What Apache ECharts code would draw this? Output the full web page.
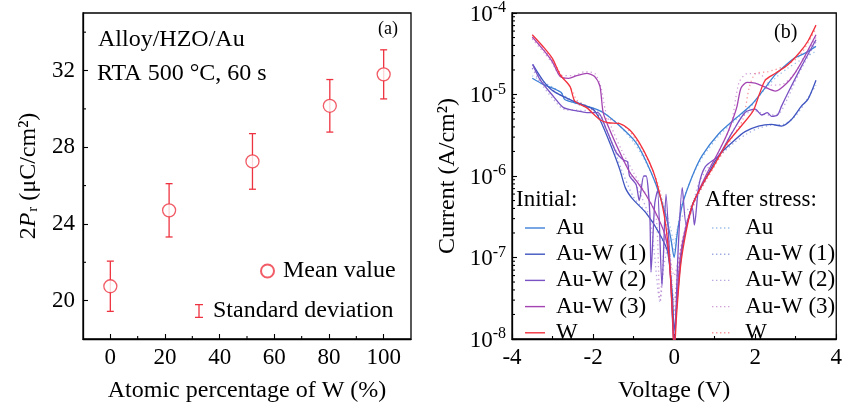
<!DOCTYPE html>
<html><head><meta charset="utf-8">
<script src="https://cdn.jsdelivr.net/npm/echarts@6/dist/echarts.min.js"></script>
<style>html,body{margin:0;padding:0;background:#fff}#c{width:845px;height:408px}</style>
</head><body><div id="c"></div>
<script>
// ---------- Panel (a) data ----------
const pctW = [0, 21.5, 52, 80.3, 100];
const pr2Mean = [20.75, 24.71, 27.26, 30.16, 31.8];
const pr2Sd = [1.31, 1.39, 1.45, 1.37, 1.28];
const aXTicks = [0, 20, 40, 60, 80, 100];
const aXMinor = [10, 30, 50, 70, 90];
const aYTicks = [20, 24, 28, 32];
const aYMinor = [22, 26, 30, 34];

// ---------- Panel (b) data: [voltage (V), current (A/cm2)] ----------
const names = ['Au', 'Au-W (1)', 'Au-W (2)', 'Au-W (3)', 'W'];
const colors = ['#3d80d6', '#3f55c0', '#7a52c4', '#a444b2', '#f2303c'];
const bYTicks = [1e-8, 1e-7, 1e-6, 1e-5, 1e-4];
const bMinorMult = [2, 3, 4, 5, 6, 7, 8, 9];
const bDecades = [1e-8, 1e-7, 1e-6, 1e-5];

const auInit = [[-3.5,1.58e-5],[-3.22,1.32e-5],[-2.95,1.17e-5],[-2.78,1.05e-5],[-2.7,8.7e-6],[-2.32,7.6e-6],[-2.0,6.8e-6],[-1.75,6.0e-6],[-1.34,4.1e-6],[-0.94,2.57e-6],[-0.69,1.51e-6],[-0.45,7.9e-7],[-0.2,3.2e-7],[-0.08,1.7e-7],[0,1.0e-7],[0.08,2.0e-7],[0.2,4.4e-7],[0.45,1.0e-6],[0.69,1.78e-6],[1.1,3.3e-6],[1.5,5.0e-6],[1.92,7.6e-6],[2.24,1.2e-5],[2.49,1.74e-5],[2.73,2.24e-5],[2.97,2.8e-5],[3.22,3.2e-5],[3.5,3.9e-5]];
const aw1Init = [[-3.49,2.34e-5],[-3.22,1.45e-5],[-2.98,1.1e-5],[-2.49,8.3e-6],[-2.0,6.6e-6],[-1.83,4.9e-6],[-1.59,2.57e-6],[-1.34,1.2e-6],[-1.2,7.1e-7],[-1.02,5.2e-7],[-0.69,3.5e-7],[-0.37,2.0e-7],[-0.16,1.17e-7],[-0.04,3.2e-8],[0,1.26e-8],[0.08,3.2e-8],[0.2,1.3e-7],[0.45,4.4e-7],[0.77,9.1e-7],[1.1,1.78e-6],[1.51,2.8e-6],[1.75,3.5e-6],[2.08,4.1e-6],[2.4,4.3e-6],[2.65,4.1e-6],[2.89,4.9e-6],[3.14,7.2e-6],[3.3,8.7e-6],[3.5,1.5e-5]];
const aw2Init = [[-3.49,2.34e-5],[-3.3,1.5e-5],[-2.98,9.5e-6],[-2.73,6.9e-6],[-2.4,6.3e-6],[-2.16,6.0e-6],[-1.88,6.0e-6],[-1.67,3.7e-6],[-1.43,1.95e-6],[-1.26,1.58e-6],[-1.15,1.5e-6],[-1.1,1.0e-6],[-0.94,7.9e-7],[-0.86,5.0e-7],[-0.75,1.0e-6],[-0.69,1.0e-6],[-0.6,3.5e-7],[-0.57,6.6e-8],[-0.48,4.5e-7],[-0.41,6.6e-7],[-0.3,4.5e-8],[-0.2,6.0e-7],[-0.1,7.9e-8],[0,7.9e-9],[0.1,1.26e-7],[0.2,7.2e-7],[0.3,2.5e-7],[0.45,4.0e-7],[0.5,2.5e-7],[0.61,7.6e-7],[0.77,1.3e-6],[1.1,1.78e-6],[1.43,3.4e-6],[1.75,6.0e-6],[2.0,6.6e-6],[2.16,5.6e-6],[2.3,6.0e-6],[2.4,5.4e-6],[2.55,5.6e-6],[2.65,7.2e-6],[2.81,1.05e-5],[3.14,2.2e-5],[3.5,4.7e-5]];
const aw3Init = [[-3.5,5.1e-5],[-3.2,3.4e-5],[-3.0,2.5e-5],[-2.81,1.66e-5],[-2.6,1.58e-5],[-2.4,1.7e-5],[-2.16,1.82e-5],[-1.96,1.66e-5],[-1.83,1.26e-5],[-1.75,6.0e-6],[-1.59,3.7e-6],[-1.34,1.95e-6],[-1.1,1.12e-6],[-0.9,8.3e-7],[-0.69,5.8e-7],[-0.45,3.5e-7],[-0.24,2.0e-7],[-0.12,9.5e-8],[-0.04,2.0e-8],[0,7.9e-9],[0.06,2.5e-8],[0.15,1.0e-7],[0.3,2.5e-7],[0.5,5.0e-7],[0.8,1.05e-6],[1.1,2.0e-6],[1.3,3.2e-6],[1.45,5.0e-6],[1.55,7.1e-6],[1.65,1.2e-5],[1.8,1.41e-5],[2.0,1.38e-5],[2.2,1.26e-5],[2.5,1.1e-5],[2.8,1.41e-5],[3.0,1.9e-5],[3.2,2.8e-5],[3.5,5.4e-5]];
const wInit = [[-3.5,5.4e-5],[-3.2,3.7e-5],[-3.0,2.75e-5],[-2.81,1.74e-5],[-2.57,1.26e-5],[-2.45,8.3e-6],[-2.16,6.9e-6],[-1.83,4.9e-6],[-1.63,4.5e-6],[-1.34,4.4e-6],[-1.1,3.7e-6],[-0.86,2.57e-6],[-0.61,1.48e-6],[-0.45,9.1e-7],[-0.24,3.2e-7],[-0.12,9.5e-8],[-0.04,1.95e-8],[0,6.3e-9],[0.06,1.95e-8],[0.16,7.9e-8],[0.29,2.0e-7],[0.45,4.4e-7],[0.7,7.9e-7],[0.95,1.26e-6],[1.3,2.5e-6],[1.6,3.8e-6],[1.95,6.3e-6],[2.1,1.0e-5],[2.25,1.5e-5],[2.5,1.82e-5],[2.8,2.3e-5],[3.1,3.3e-5],[3.3,4.5e-5],[3.5,7.1e-5]];

const auStress = [[-3.5,1.7e-5],[-3.2,1.4e-5],[-2.9,1.15e-5],[-2.6,9e-6],[-2.2,7.4e-6],[-1.8,6.2e-6],[-1.4,4.4e-6],[-1.0,2.6e-6],[-0.7,1.5e-6],[-0.45,8e-7],[-0.2,3.6e-7],[-0.08,2.2e-7],[0,1.5e-7],[0.08,2.3e-7],[0.2,4.6e-7],[0.45,1.0e-6],[0.7,1.7e-6],[1.1,3.1e-6],[1.5,4.8e-6],[1.9,7.2e-6],[2.2,1.1e-5],[2.5,1.6e-5],[2.8,2.1e-5],[3.1,2.6e-5],[3.5,3.4e-5]];
const aw1Stress = [[-3.5,2.1e-5],[-3.2,1.4e-5],[-2.9,1.05e-5],[-2.5,8e-6],[-2.0,6.4e-6],[-1.8,5e-6],[-1.55,2.7e-6],[-1.3,1.2e-6],[-1.0,5.5e-7],[-0.7,3.6e-7],[-0.4,2.1e-7],[-0.15,1.1e-7],[0,3e-8],[0.15,1.0e-7],[0.3,2.6e-7],[0.5,5e-7],[0.8,9.5e-7],[1.1,1.7e-6],[1.5,2.6e-6],[1.8,3.3e-6],[2.1,3.9e-6],[2.4,4.2e-6],[2.7,4.3e-6],[3.0,5.5e-6],[3.3,9e-6],[3.5,1.3e-5]];
const aw2Stress = [[-3.5,2.1e-5],[-3.3,1.4e-5],[-3.0,9e-6],[-2.7,6.5e-6],[-2.3,6.4e-6],[-1.9,6.2e-6],[-1.7,4e-6],[-1.45,2.1e-6],[-1.2,1.4e-6],[-1.0,9e-7],[-0.8,5.5e-7],[-0.6,3e-7],[-0.5,1.3e-7],[-0.4,4e-8],[-0.35,2.8e-8],[-0.25,8e-8],[-0.1,1.6e-7],[0,1.2e-7],[0.1,2.5e-7],[0.25,3.5e-7],[0.45,4.5e-7],[0.6,8e-7],[0.8,1.2e-6],[1.1,1.7e-6],[1.4,3.2e-6],[1.7,5.5e-6],[2.0,6.3e-6],[2.3,5.6e-6],[2.6,5.9e-6],[2.8,9e-6],[3.1,1.9e-5],[3.5,4.4e-5]];
const aw3Stress = [[-3.5,4.8e-5],[-3.2,3.2e-5],[-3.0,2.4e-5],[-2.8,1.7e-5],[-2.5,1.7e-5],[-2.2,1.9e-5],[-1.95,1.8e-5],[-1.8,1.2e-5],[-1.7,6.5e-6],[-1.55,4e-6],[-1.3,2.1e-6],[-1.0,1.1e-6],[-0.7,6e-7],[-0.45,3.4e-7],[-0.35,3e-8],[-0.2,2e-7],[0,6e-8],[0.15,1.2e-7],[0.3,2.6e-7],[0.5,5e-7],[0.8,1.0e-6],[1.1,2.0e-6],[1.4,4.2e-6],[1.6,1.4e-5],[1.8,1.8e-5],[2.1,1.8e-5],[2.4,1.3e-5],[2.7,1.35e-5],[3.0,1.9e-5],[3.5,5e-5]];
const wStress = [[-3.5,5e-5],[-3.2,3.5e-5],[-3.0,2.6e-5],[-2.8,1.8e-5],[-2.55,1.2e-5],[-2.4,8.5e-6],[-2.1,7e-6],[-1.8,5.3e-6],[-1.5,4.8e-6],[-1.2,4.0e-6],[-0.9,2.6e-6],[-0.6,1.4e-6],[-0.4,8e-7],[-0.2,3e-7],[-0.08,8e-8],[0,2e-8],[0.08,7e-8],[0.2,1.6e-7],[0.35,2.8e-7],[0.55,5.2e-7],[0.8,9e-7],[1.1,1.6e-6],[1.4,2.8e-6],[1.7,5e-6],[1.85,1.2e-5],[2.0,1.8e-5],[2.3,1.9e-5],[2.7,2.2e-5],[3.1,3.0e-5],[3.5,6.5e-5]];

const initData = [auInit, aw1Init, aw2Init, aw3Init, wInit];
const stressData = [auStress, aw1Stress, aw2Stress, aw3Stress, wStress];

// ---------- build ----------
const FF = 'Liberation Serif';
const RED = '#ee3340';
const chart = echarts.init(document.getElementById('c'), null, {renderer: 'canvas'});

const bMinor = [];
bDecades.forEach(d => bMinorMult.forEach(m => bMinor.push(m * d)));

const tickSeries = (xi, yi, data, dir) => ({
  type: 'custom', xAxisIndex: xi, yAxisIndex: yi, silent: true, z: 5,
  data: data,
  renderItem: (p, api) => {
    const c = api.coord([api.value(0), api.value(1)]);
    const d = dir === 'x' ? [c[0], c[1] - 3] : [c[0] + 3, c[1]];
    return {type: 'line', shape: {x1: c[0], y1: c[1], x2: d[0], y2: d[1]}, style: {stroke: '#000', lineWidth: 1.1}};
  }
});

const series = [];
series.push({
  name: 'Standard deviation', type: 'custom', xAxisIndex: 0, yAxisIndex: 0, z: 3,
  itemStyle: {color: RED},
  data: pctW.map((x, i) => [x, pr2Mean[i] - pr2Sd[i], pr2Mean[i] + pr2Sd[i]]),
  renderItem: (p, api) => {
    const lo = api.coord([api.value(0), api.value(1)]);
    const hi = api.coord([api.value(0), api.value(2)]);
    const st = {stroke: RED, lineWidth: 1.3};
    return {type: 'group', children: [
      {type: 'line', shape: {x1: lo[0], y1: lo[1], x2: hi[0], y2: hi[1]}, style: st},
      {type: 'line', shape: {x1: lo[0] - 3.5, y1: lo[1], x2: lo[0] + 3.5, y2: lo[1]}, style: st},
      {type: 'line', shape: {x1: hi[0] - 3.5, y1: hi[1], x2: hi[0] + 3.5, y2: hi[1]}, style: st}
    ]};
  }
});
series.push({
  name: 'Mean value', type: 'scatter', xAxisIndex: 0, yAxisIndex: 0, z: 4,
  symbol: 'circle', symbolSize: 13,
  itemStyle: {color: '#fff', borderColor: RED, borderWidth: 1.3},
  data: pctW.map((x, i) => [x, pr2Mean[i]])
});
series.push(tickSeries(0, 0, aXMinor.map(v => [v, 18]), 'x'));
series.push(tickSeries(0, 0, aYMinor.map(v => [-10, v]), 'y'));
series.push(tickSeries(1, 1, bMinor.map(v => [-4, v]), 'y'));

names.forEach((n, i) => {
  series.push({
    name: n + ' (after)', type: 'line', xAxisIndex: 1, yAxisIndex: 1, z: 2,
    showSymbol: false, symbol: 'none', smooth: 0.25,
    lineStyle: {color: colors[i], width: 1.3, type: [1.3, 3], opacity: 0.5},
    itemStyle: {color: colors[i], opacity: 0.5},
    data: stressData[i]
  });
});
names.forEach((n, i) => {
  series.push({
    name: n, type: 'line', xAxisIndex: 1, yAxisIndex: 1, z: 3,
    showSymbol: false, symbol: 'none', smooth: 0.25,
    lineStyle: {color: colors[i], width: 1.3},
    itemStyle: {color: colors[i]},
    data: initData[i]
  });
});

const axisLine = {onZero: false, lineStyle: {color: '#000', width: 1.3}};
const tickStyle = {lineStyle: {color: '#000', width: 1.1}};
const solidIcon = 'path://M0,0H20V1.4H0Z';
const dotIcon = 'path://M0,0h1.4v1.4h-1.4zM4,0h1.4v1.4h-1.4zM8,0h1.4v1.4h-1.4zM12,0h1.4v1.4h-1.4zM16,0h1.4v1.4h-1.4z';

const option = {
  backgroundColor: '#fff',
  animation: false,
  textStyle: {fontFamily: FF},
  grid: [
    {left: 83, top: 13, width: 328, height: 327, show: true, borderColor: '#000', borderWidth: 1.3},
    {left: 512, top: 13, width: 327, height: 328, show: true, borderColor: '#000', borderWidth: 1.3}
  ],
  xAxis: [
    {gridIndex: 0, type: 'value', min: -10, max: 110, axisLine: axisLine,
     axisTick: Object.assign({inside: true, length: 5, customValues: aXTicks}, tickStyle),
     axisLabel: {customValues: aXTicks, fontSize: 23, color: '#000', fontFamily: FF, margin: 7},
     splitLine: {show: false},
     name: 'Atomic percentage of W (%)', nameLocation: 'middle', nameGap: 40,
     nameTextStyle: {fontSize: 24, color: '#000', fontFamily: FF}},
    {gridIndex: 1, type: 'value', min: -4, max: 4, interval: 2, axisLine: axisLine,
     axisTick: Object.assign({inside: true, length: 5}, tickStyle),
     minorTick: {show: true, splitNumber: 2, length: 3, lineStyle: {color: '#000', width: 1.1}},
     axisLabel: {fontSize: 23, color: '#000', fontFamily: FF, margin: 7, showMinLabel: true, showMaxLabel: true},
     splitLine: {show: false},
     name: 'Voltage (V)', nameLocation: 'middle', nameGap: 40,
     nameTextStyle: {fontSize: 24, color: '#000', fontFamily: FF}}
  ],
  yAxis: [
    {gridIndex: 0, type: 'value', min: 18, max: 35, axisLine: Object.assign({show: true}, axisLine),
     axisTick: Object.assign({show: true, inside: true, length: 5, customValues: aYTicks}, tickStyle),
     axisLabel: {customValues: aYTicks, fontSize: 23, color: '#000', fontFamily: FF, margin: 8},
     splitLine: {show: false},
     name: '{n|2}{i|P}{s|r}{n| (μC/cm²)}', nameLocation: 'middle', nameRotate: 90, nameGap: 42,
     nameTextStyle: {color: '#000', fontFamily: FF, rich: {
       n: {fontSize: 24, fontFamily: FF, color: '#000'},
       i: {fontSize: 24, fontFamily: FF, fontStyle: 'italic', color: '#000'},
       s: {fontSize: 15, fontFamily: FF, color: '#000', verticalAlign: 'bottom', padding: [9, 0, 0, 1]}
     }}},
    {gridIndex: 1, type: 'log', logBase: 10, min: 1e-8, max: 1e-4, axisLine: Object.assign({show: true}, axisLine),
     axisTick: Object.assign({show: true, inside: true, length: 5}, tickStyle),
     axisLabel: {color: '#000', fontFamily: FF, margin: 6, showMinLabel: true, showMaxLabel: true,
       formatter: v => '{b|10}{s|' + Math.round(Math.log10(v)) + '}',
       rich: {
         b: {fontSize: 23, fontFamily: FF, color: '#000', lineHeight: 26, verticalAlign: 'bottom'},
         s: {fontSize: 16, fontFamily: FF, color: '#000', verticalAlign: 'top', lineHeight: 16}
       }},
     splitLine: {show: false},
     name: 'Current (A/cm²)', nameLocation: 'middle', nameRotate: 90, nameGap: 52,
     nameTextStyle: {fontSize: 24, color: '#000', fontFamily: FF}}
  ],
  legend: [
    {data: ['Mean value'], left: 255, top: 254, orient: 'vertical', itemWidth: 13, itemHeight: 13,
     selectedMode: false, textStyle: {fontSize: 24, color: '#000', fontFamily: FF, padding: [0, 0, 0, 4]}},
    {data: [{name: 'Standard deviation', icon: 'path://M0,0H8V1.3H4.65V12.7H8V14H0V12.7H3.35V1.3H0Z'}],
     left: 190, top: 294, orient: 'vertical', itemWidth: 8, itemHeight: 14,
     selectedMode: false, textStyle: {fontSize: 24, color: '#000', fontFamily: FF, padding: [0, 0, 0, 5]}},
    {data: names.map(n => ({name: n, icon: solidIcon})), left: 520, top: 211, orient: 'vertical', itemWidth: 20, itemHeight: 1.4, itemGap: 2.2,
     selectedMode: false, textStyle: {fontSize: 23, lineHeight: 24, color: '#000', fontFamily: FF, padding: [0, 0, 0, 6]}},
    {data: names.map(n => ({name: n + ' (after)', icon: dotIcon})), left: 707, top: 211, orient: 'vertical', itemWidth: 19, itemHeight: 1.4, itemGap: 2.2,
     selectedMode: false, formatter: n => n.replace(' (after)', ''),
     textStyle: {fontSize: 23, lineHeight: 24, color: '#000', fontFamily: FF, padding: [0, 0, 0, 10]}}
  ],
  graphic: [
    {type: 'text', left: 98, top: 28, style: {text: 'Alloy/HZO/Au', font: '24px "Liberation Serif"', fill: '#000'}},
    {type: 'text', left: 97, top: 62, style: {text: 'RTA 500 °C, 60 s', font: '24px "Liberation Serif"', fill: '#000'}},
    {type: 'text', left: 378, top: 20, style: {text: '(a)', font: '18px "Liberation Serif"', fill: '#000'}},
    {type: 'text', left: 774, top: 23, style: {text: '(b)', font: '20px "Liberation Serif"', fill: '#000'}},
    {type: 'text', left: 516, top: 188, style: {text: 'Initial:', font: '23px "Liberation Serif"', fill: '#000'}},
    {type: 'text', left: 705, top: 188, style: {text: 'After stress:', font: '23px "Liberation Serif"', fill: '#000'}}
  ],
  series: series
};
chart.setOption(option);
</script></body></html>
